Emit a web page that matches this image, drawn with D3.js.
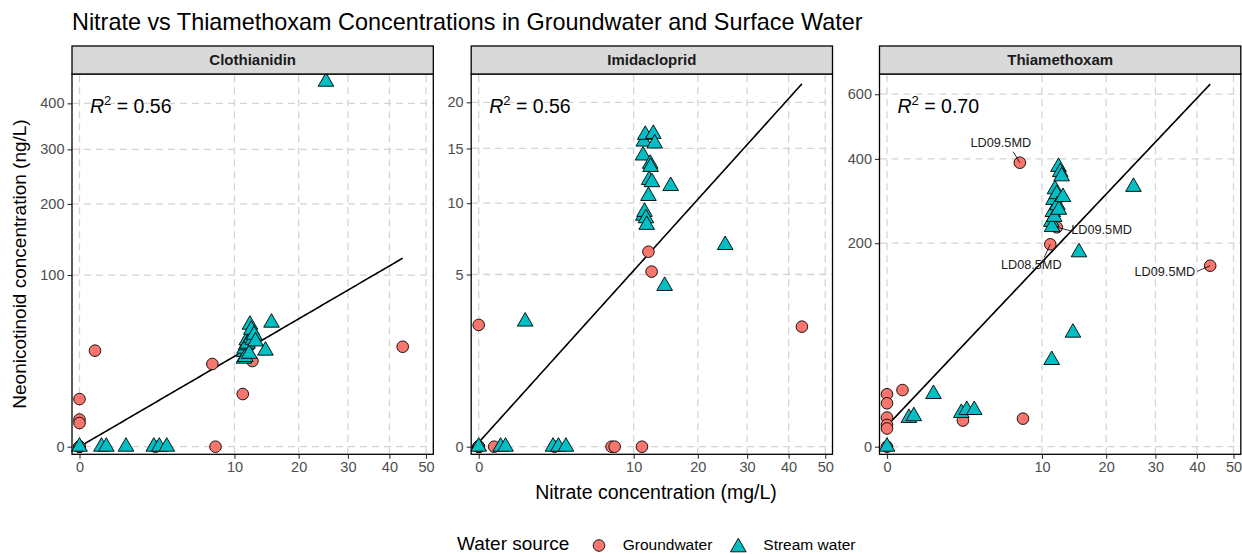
<!DOCTYPE html>
<html>
<head>
<meta charset="utf-8">
<script src="https://cdn.jsdelivr.net/npm/d3@7"></script>
<style>
  body { margin: 0; background: #ffffff; }
  svg { display: block; font-family: "Liberation Sans", Arial, sans-serif; }
</style>
</head>
<body>
<svg id="chart" width="1242" height="554"></svg>
<script>
// ---- data ---------------------------------------------------------------
const compounds = ["Clothianidin", "Imidacloprid", "Thiamethoxam"];
const waterSources = ["Groundwater", "Stream water"];

// one entry per sample: water source, nitrate (mg/L) and each neonicotinoid (ng/L)
const source = [
  "Groundwater", "Groundwater", "Groundwater", "Groundwater", "Groundwater",
  "Groundwater", "Groundwater", "Groundwater", "Groundwater", "Groundwater",
  "Groundwater", "Groundwater", "Groundwater", "Groundwater",
  "Stream water", "Stream water", "Stream water", "Stream water", "Stream water",
  "Stream water", "Stream water", "Stream water", "Stream water", "Stream water",
  "Stream water", "Stream water", "Stream water", "Stream water", "Stream water",
  "Stream water", "Stream water", "Stream water", "Stream water", "Stream water",
  "Stream water", "Stream water", "Stream water", "Stream water"
];
const nitrate = [
  0, 0, 0, 0, 0, 0, 0.10, 2.4, 7.35, 7.7, 11.1, 12.0, 12.45, 43.5,
  0, 0.2, 0.3, 0.9, 2.3, 2.65, 3.17, 14.4, 15.35, 25.3,
  11.3, 11.25, 11.35, 11.45, 11.55, 11.65, 11.75, 12.0, 12.1, 12.25, 12.3, 12.5, 12.7, 12.9
];
const clothianidin = [
  0, 7.7, 2.5, 1.9, 0, 0, 31.3, 0, 23.2, 0, 9.4, 35, 24.9, 33.9,
  0, 0, 0, 0, 0, 0, 0, 31.3, 52.2, 452,
  30.4, 26.3, 32.6, 27.3, 34.9, 38.4, 36.0, 29.3, 50.5, 40.0, 46.4, 38.8, 42.5, 37.6
];
const imidacloprid = [
  0, 2.5, 0, 0, 0, 0, 0, 0, 0, 0, 0, 6.41, 5.17, 2.43,
  0, 0, 0, 2.64, 0, 0, 0, 4.36, 11.46, 6.86,
  9.0, 14.3, 15.7, 9.3, 16.4, 8.8, 8.3, 10.6, 12.0, 13.5, 13.2, 11.8, 16.5, 15.5
];
const thiamethoxam = [
  0, 13.3, 9.1, 4.1, 2.3, 1.6, 15.5, 3.3, 389.5, 3.8, 197.8, 232.5, 301.8, 158.2,
  0, 4.0, 4.5, 13.4, 5.5, 6.5, 6.5, 62.8, 182.5, 326,
  36.3, 244, 233, 266, 294, 255, 320, 308, 282, 378, 271, 364, 353, 301
];
// site names shown in the Thiamethoxam panel
const siteLabel = [
  "", "", "", "", "", "", "", "", "LD09.5MD", "", "LD08.5MD", "LD09.5MD", "", "LD09.5MD",
  "", "", "", "", "", "", "", "", "", "",
  "", "", "", "", "", "", "", "", "", "", "", "", "", ""
];

const xTicks = [0, 10, 20, 30, 40, 50];
const yTicksClothianidin = [0, 100, 200, 300, 400];
const yTicksImidacloprid = [0, 5, 10, 15, 20];
const yTicksThiamethoxam = [0, 200, 400, 600];

// linear fits on the square-root scales: sqrt(conc) = intercept + slope * sqrt(nitrate)
const fitIntercept = [0.0, 0.055, 1.45];
const fitSlope = [1.665, 0.706, 3.6];
const rSquared = ["0.56", "0.56", "0.70"];

// ---- layout -------------------------------------------------------------
const svg = d3.select("#chart");
const colour = d3.scaleOrdinal().domain(waterSources).range(["#F8766D", "#00BFC4"]);

const panelLeft = [72, 471.2, 879.5];
const panelWidth = 361.3;
const stripTop = 46, panelTop = 74, panelBottom = 454.3;
const pointR = 5.8;

const concentration = [clothianidin, imidacloprid, thiamethoxam];
const yTickSets = [yTicksClothianidin, yTicksImidacloprid, yTicksThiamethoxam];
// sqrt-space limits of each panel's y axis
const ySqrtLimits = [[-0.443, 21.71], [-0.0987, 4.84], [-0.528, 25.9]];
const xSqrtLimits = [-0.153, 7.22];

const signedSquare = v => (v < 0 ? -v * v : v * v);

// label placement for the named sites (offsets in px from the point)
const labelNudge = {
  8:  { dx: -19, dy: -15.4, anchor: "middle", sx: -6.7, sy: -11 },
  10: { dx: -19, dy: 25, anchor: "middle", sx: -6, sy: 13 },
  11: { dx: 14.5, dy: 6.7, anchor: "start", sx: 13.5, sy: 3.4 },
  13: { dx: -15, dy: 10.3, anchor: "end", sx: -13, sy: 5.6 }
};

function trianglePath(r) {
  const top = 1.555 * r, half = 1.347 * r, low = 0.778 * r;
  return `M0,${-top}L${half},${low}L${-half},${low}Z`;
}

// title
svg.append("text")
  .attr("x", 72).attr("y", 30)
  .attr("font-size", 23.4).attr("fill", "#000")
  .text("Nitrate vs Thiamethoxam Concentrations in Groundwater and Surface Water");

compounds.forEach((name, p) => {
  const L = panelLeft[p], R = L + panelWidth;
  const x = d3.scaleSqrt()
    .domain([signedSquare(xSqrtLimits[0]), signedSquare(xSqrtLimits[1])])
    .range([L, R]);
  const y = d3.scaleSqrt()
    .domain([signedSquare(ySqrtLimits[p][0]), signedSquare(ySqrtLimits[p][1])])
    .range([panelBottom, panelTop]);

  const g = svg.append("g");

  // panel background
  g.append("rect")
    .attr("x", L).attr("y", panelTop)
    .attr("width", panelWidth).attr("height", panelBottom - panelTop)
    .attr("fill", "#ffffff");

  // dashed grid
  const grid = g.append("g")
    .attr("stroke", "#d4d4d4").attr("stroke-width", 1.3)
    .attr("stroke-dasharray", "7,5");
  grid.selectAll("line.v").data(xTicks).join("line")
    .attr("x1", d => x(d)).attr("x2", d => x(d))
    .attr("y1", panelBottom).attr("y2", panelTop);
  grid.selectAll("line.h").data(yTickSets[p]).join("line")
    .attr("x1", L).attr("x2", R)
    .attr("y1", d => y(d)).attr("y2", d => y(d));

  // axes
  const xAxis = d3.axisBottom(x).tickValues(xTicks).tickSize(4.5).tickPadding(3).tickFormat(d3.format("d"));
  const yAxis = d3.axisLeft(y).tickValues(yTickSets[p]).tickSize(4.5).tickPadding(3).tickFormat(d3.format("d"));
  const gx = g.append("g").attr("transform", `translate(0,${panelBottom})`).call(xAxis);
  const gy = g.append("g").attr("transform", `translate(${L},0)`).call(yAxis);
  [gx, gy].forEach(a => {
    a.select(".domain").remove();
    a.selectAll(".tick line").attr("stroke", "#333333").attr("stroke-width", 1.1);
    a.selectAll(".tick text")
      .attr("fill", "#4d4d4d")
      .attr("font-size", 14.5)
      .attr("font-family", "'Liberation Sans', Arial, sans-serif");
  });

  // regression line
  const maxX = d3.max(nitrate);
  const fitLine = d3.line()
    .x(d => x(d))
    .y(d => y(signedSquare(fitIntercept[p] + fitSlope[p] * Math.sqrt(d))));
  const fitXs = d3.range(0, 101).map(i => signedSquare(Math.sqrt(maxX) * i / 100));
  g.append("path")
    .attr("d", fitLine(fitXs))
    .attr("fill", "none").attr("stroke", "#000").attr("stroke-width", 1.6);

  // points
  const vals = concentration[p];
  const pts = nitrate.map((n, i) => ({ i, n, v: vals[i], s: source[i] }));
  const marks = g.append("g");
  pts.forEach(d => {
    const px = x(d.n), py = y(d.v);
    if (d.s === "Groundwater") {
      marks.append("circle")
        .attr("cx", px).attr("cy", py).attr("r", pointR)
        .attr("fill", colour(d.s)).attr("stroke", "#000").attr("stroke-width", 0.9);
    } else {
      marks.append("path")
        .attr("d", trianglePath(pointR))
        .attr("transform", `translate(${px},${py})`)
        .attr("fill", colour(d.s)).attr("stroke", "#000").attr("stroke-width", 0.9);
    }
  });

  // site labels (Thiamethoxam panel)
  if (name === "Thiamethoxam") {
    pts.filter(d => siteLabel[d.i]).forEach(d => {
      const px = x(d.n), py = y(d.v), nd = labelNudge[d.i];
      g.append("line")
        .attr("x1", px).attr("y1", py)
        .attr("x2", px + nd.sx).attr("y2", py + nd.sy)
        .attr("stroke", "#000").attr("stroke-width", 0.8);
      g.append("text")
        .attr("x", px + nd.dx).attr("y", py + nd.dy)
        .attr("text-anchor", nd.anchor)
        .attr("font-size", 12.7).attr("fill", "#1a1a1a")
        .text(siteLabel[d.i]);
    });
  }

  // R² annotation
  const rt = g.append("text")
    .attr("x", L + 18).attr("y", 113.3)
    .attr("font-size", 19.5).attr("fill", "#000");
  rt.append("tspan").attr("font-style", "italic").text("R");
  rt.append("tspan").attr("font-size", 13).attr("dy", -8).text("2");
  rt.append("tspan").attr("dy", 8).text(" = " + rSquared[p]);

  // panel border
  g.append("rect")
    .attr("x", L).attr("y", panelTop)
    .attr("width", panelWidth).attr("height", panelBottom - panelTop)
    .attr("fill", "none").attr("stroke", "#000").attr("stroke-width", 1.3);

  // strip
  g.append("rect")
    .attr("x", L).attr("y", stripTop)
    .attr("width", panelWidth).attr("height", panelTop - stripTop)
    .attr("fill", "#d9d9d9").attr("stroke", "#000").attr("stroke-width", 1.3);
  g.append("text")
    .attr("x", L + panelWidth / 2).attr("y", (stripTop + panelTop) / 2 + 5.3)
    .attr("text-anchor", "middle")
    .attr("font-size", 15).attr("font-weight", "bold").attr("fill", "#1a1a1a")
    .text(name);
});

// axis titles
svg.append("text")
  .attr("x", 656).attr("y", 499)
  .attr("text-anchor", "middle").attr("font-size", 19.5).attr("fill", "#000")
  .text("Nitrate concentration (mg/L)");
svg.append("text")
  .attr("transform", `translate(26,264) rotate(-90)`)
  .attr("text-anchor", "middle").attr("font-size", 19).attr("fill", "#000")
  .text("Neonicotinoid concentration (ng/L)");

// legend
const legend = svg.append("g");
legend.append("text")
  .attr("x", 457).attr("y", 550)
  .attr("font-size", 19).attr("fill", "#000")
  .text("Water source");
const keyX = [599, 738.3];
const labelX = [622.7, 763.3];
waterSources.forEach((s, k) => {
  if (k === 0) {
    legend.append("circle")
      .attr("cx", keyX[k]).attr("cy", 545.5).attr("r", pointR)
      .attr("fill", colour(s)).attr("stroke", "#000").attr("stroke-width", 0.9);
  } else {
    legend.append("path")
      .attr("d", trianglePath(pointR))
      .attr("transform", `translate(${keyX[k]},547.3)`)
      .attr("fill", colour(s)).attr("stroke", "#000").attr("stroke-width", 0.9);
  }
  legend.append("text")
    .attr("x", labelX[k]).attr("y", 550)
    .attr("font-size", 15.5).attr("fill", "#000")
    .text(s);
});
</script>
</body>
</html>
